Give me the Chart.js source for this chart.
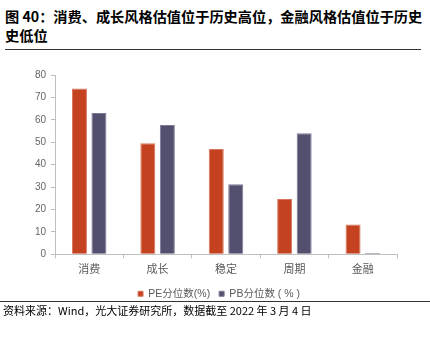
<!DOCTYPE html>
<html>
<head>
<meta charset="utf-8">
<script src="https://cdn.jsdelivr.net/npm/chart.js@4/dist/chart.umd.min.js"></script>
<style>
  html, body { margin: 0; padding: 0; background: #fff; }
  body { width: 430px; height: 337px; position: relative; overflow: hidden;
         font-family: "Noto Sans CJK SC", "Noto Sans", sans-serif; }
  #title { position: absolute; left: 5px; top: 7px; white-space: nowrap;
           font-size: 14.2px; font-weight: bold; line-height: 19px; color: #000; }
  #rule1 { position: absolute; left: 5px; top: 49px; width: 416px; height: 0;
           border-top: 1.5px solid #333; }
  #wrap { position: absolute; left: 0; top: 64px; width: 430px; height: 245px; }
  #rule2 { position: absolute; left: 0; top: 301px; width: 430px; height: 0;
           border-top: 1px solid #333; }
  #source { position: absolute; left: 3px; top: 302px; font-size: 11px;
            line-height: 16px; color: #000; }
</style>
</head>
<body>
<div id="title">图 40：消费、成长风格估值位于历史高位，金融风格估值位于历史<br>史低位</div>
<div id="rule1"></div>
<div id="wrap"><canvas id="c"></canvas></div>
<div id="rule2"></div>
<div id="source">资料来源：Wind，光大证券研究所，数据截至 2022 年 3 月 4 日</div>
<script>
// Style groups
const categories = ['消费', '成长', '稳定', '周期', '金融'];
// Valuation percentiles (%)
const pePercentile = [74, 49.5, 47, 24.7, 13.3];
const pbPercentile = [63, 57.7, 31.2, 54, 0.6];
const yTicks = [0, 10, 20, 30, 40, 50, 60, 70, 80];

const axisGray = '#BFBFBF';
const labelGray = '#595959';

// Centre the legend row under the whole figure rather than the plot width
const legendShift = {
  id: 'legendShift',
  afterLayout(chart) {
    const lg = chart.legend;
    if (!lg) return;
    lg.left = 8;
    lg.right = chart.width;
    lg.width = lg.right - lg.left;
  }
};

new Chart(document.getElementById('c'), {
  type: 'bar',
  data: {
    labels: categories,
    datasets: [
      { label: 'PE分位数(%)', data: pePercentile, backgroundColor: '#C4421F',
        borderColor: '#D9765C', borderWidth: 1,
        categoryPercentage: 0.57, barPercentage: 0.77 },
      { label: 'PB分位数 ( % )', data: pbPercentile, backgroundColor: '#52506E',
        borderColor: '#7C7A96', borderWidth: 1,
        categoryPercentage: 0.57, barPercentage: 0.77 }
    ]
  },
  plugins: [legendShift],
  options: {
    responsive: true,
    maintainAspectRatio: false,
    animation: false,
    devicePixelRatio: 1,
    layout: { padding: { left: 0, right: 33, top: 8, bottom: 0 } },
    plugins: {
      tooltip: { enabled: false },
      legend: {
        position: 'bottom',
        labels: {
          boxWidth: 5, boxHeight: 5, padding: 9,
          color: labelGray,
          font: { size: 10.5, family: '"Liberation Sans", "Noto Sans CJK SC", sans-serif' }
        }
      }
    },
    scales: {
      x: {
        grid: { display: true, drawOnChartArea: false, drawTicks: true,
                tickLength: 4, color: axisGray, offset: true },
        border: { color: axisGray, width: 1 },
        ticks: { color: labelGray, padding: 4,
                 font: { size: 11, family: '"Noto Sans CJK SC", sans-serif' } }
      },
      y: {
        min: 0, max: 80,
        afterBuildTicks: (scale) => { scale.ticks = yTicks.map(v => ({ value: v })); },
        afterFit: (scale) => { scale.width = 55; },
        grid: { display: true, drawOnChartArea: false, drawTicks: true,
                tickLength: 4, color: axisGray },
        border: { color: axisGray, width: 1 },
        ticks: { color: '#666', padding: 5,
                 font: { size: 10, family: '"Liberation Sans", "DejaVu Sans", sans-serif' } }
      }
    }
  }
});
</script>
</body>
</html>
